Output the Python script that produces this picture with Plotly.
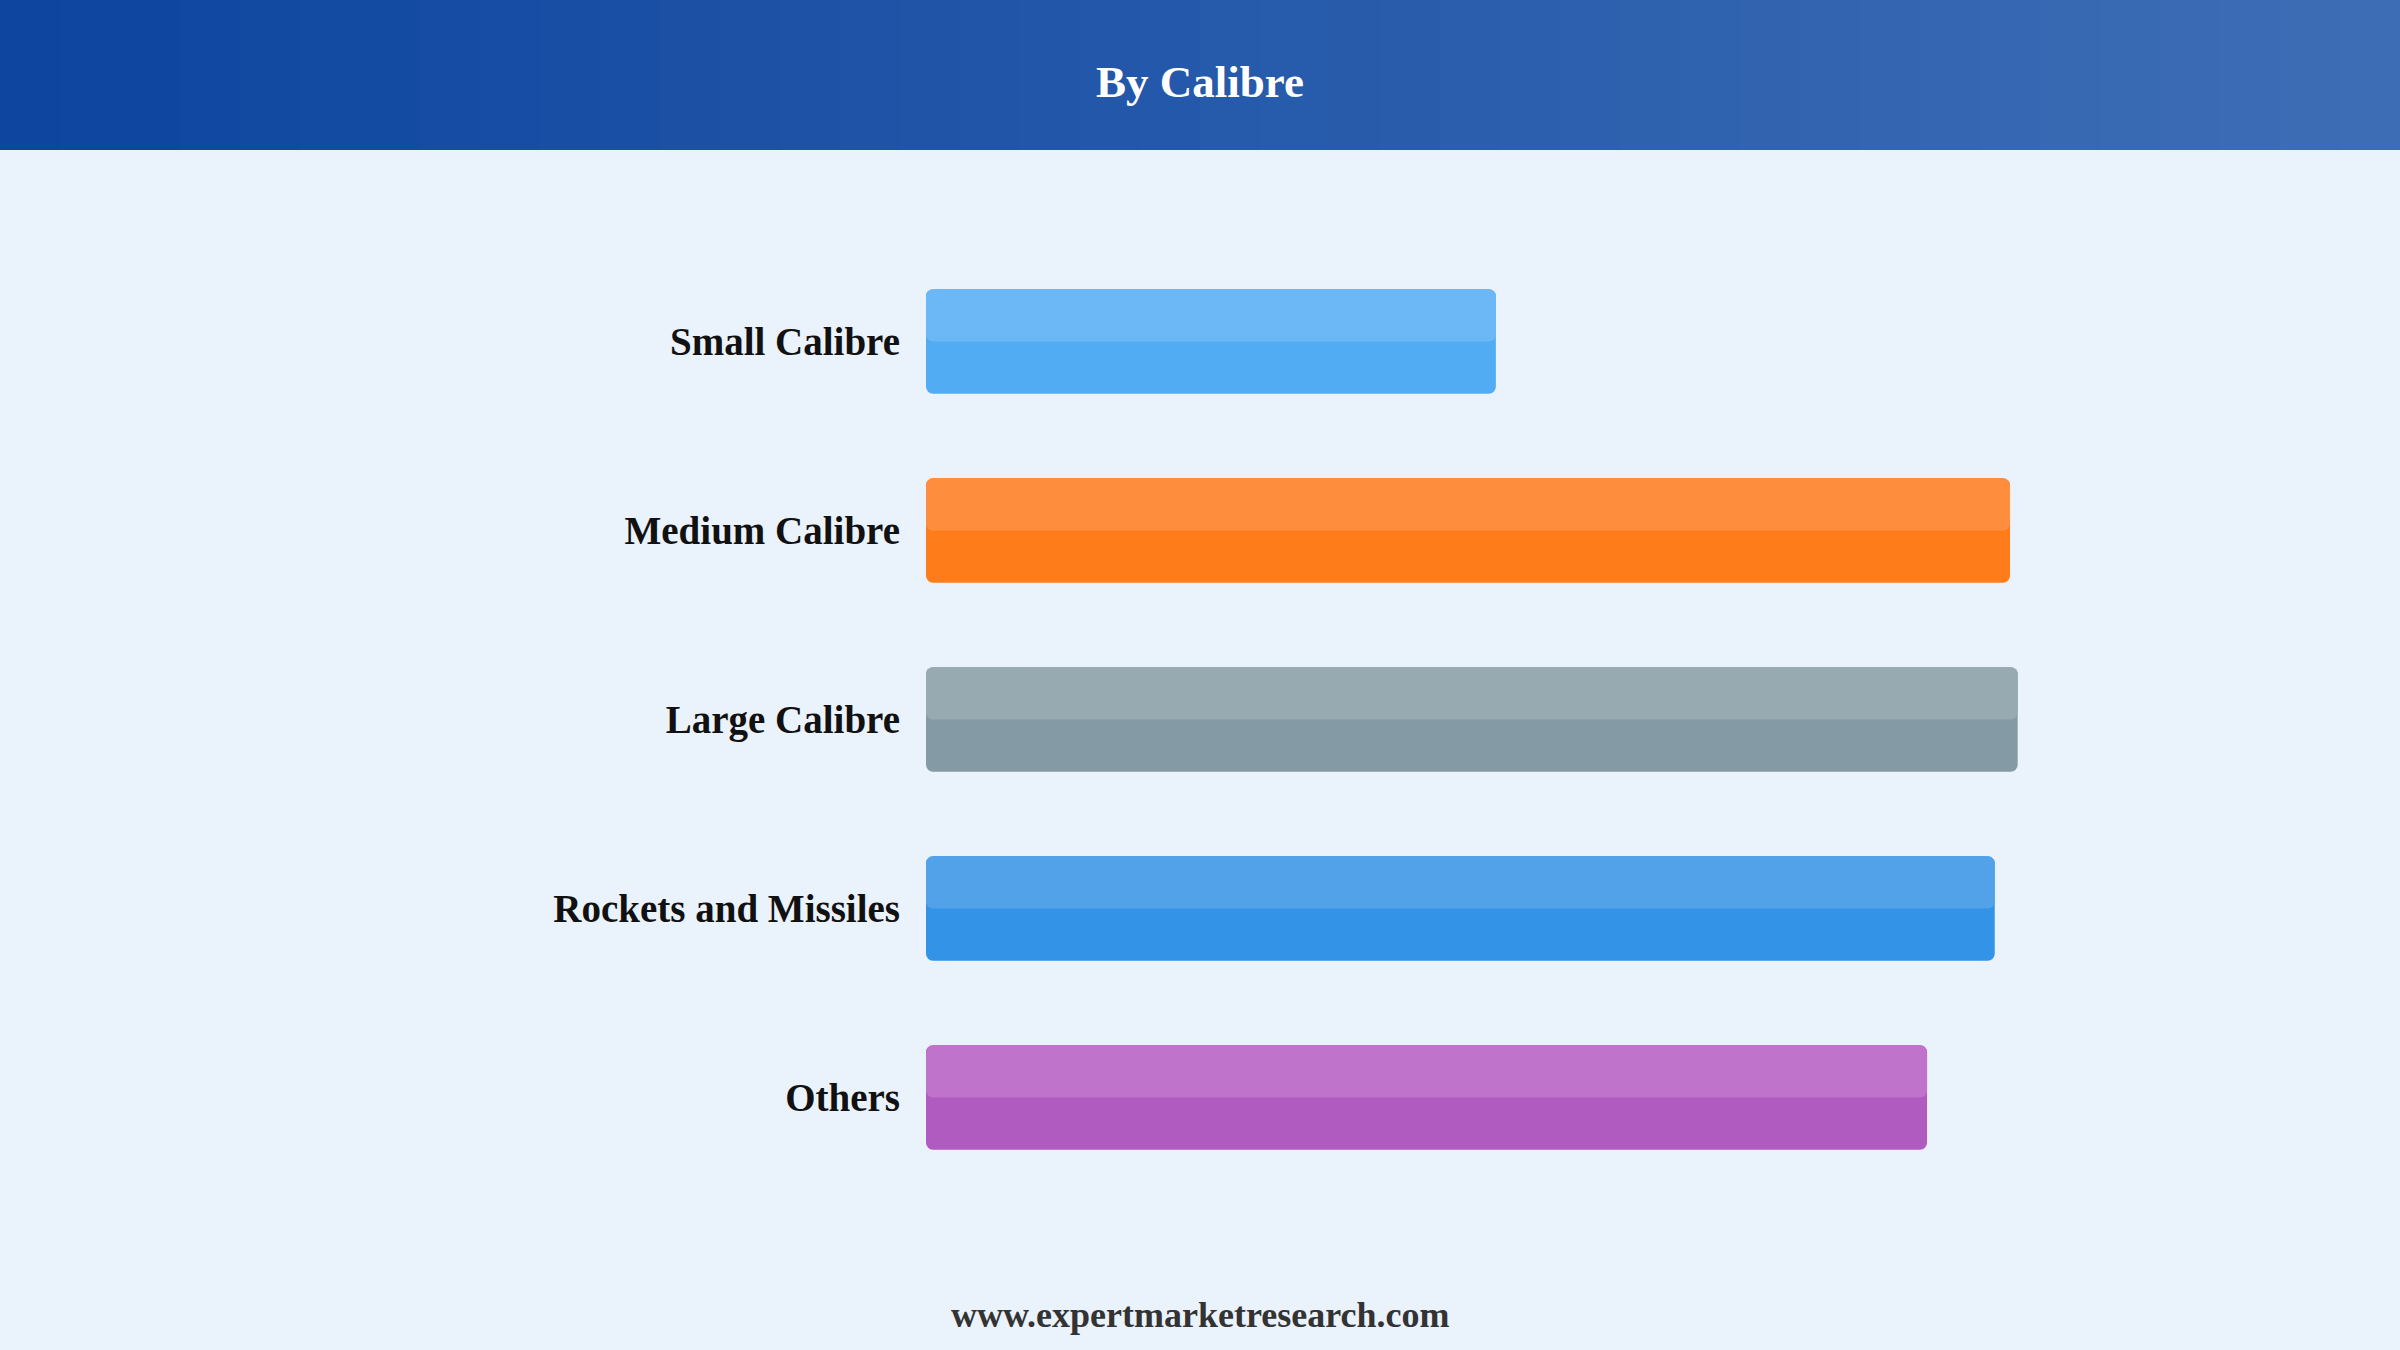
import plotly.graph_objects as go

# data (relative share, largest = 100)
categories = ['Small Calibre', 'Medium Calibre', 'Large Calibre', 'Rockets and Missiles', 'Others']
values = [52.2, 99.3, 100.0, 97.9, 91.7]
dark_colors = ['#52ACF3', '#FF7C1A', '#849BA5', '#3393E6', '#B05BC0']
light_colors = ['#6CB8F6', '#FF8D3E', '#97A9B1', '#52A2EA', '#BF73CB']

W, H = 2400, 1350
ml, mr, mt, mb = 926, 164, 247, 158
pw, ph = W - ml - mr, H - mt - mb

def px_x(p):
    return (p - ml) / pw

def px_y(p):
    return (H - mb - p) / ph

bw = 0.554
fig = go.Figure()

# darker full bar, lighter upper half on top
fig.add_trace(go.Bar(y=categories, x=values, base=[0] * len(values), orientation='h',
                     marker=dict(color=dark_colors, line=dict(width=0)),
                     width=bw, offset=-bw / 2, hoverinfo='skip', showlegend=False))
fig.add_trace(go.Bar(y=categories, x=values, base=[0] * len(values), orientation='h',
                     marker=dict(color=light_colors, line=dict(width=0)),
                     width=bw / 2, offset=-bw / 2, hoverinfo='skip', showlegend=False))

# header band, drawn as stripes to fake a gradient
c0 = (0x0D, 0x45, 0x9F)
c1 = (0x3D, 0x6D, 0xB5)
n = 40
shapes = []
for i in range(n):
    t = i / (n - 1)
    col = 'rgb(%d,%d,%d)' % tuple(round(a + (b - a) * t) for a, b in zip(c0, c1))
    shapes.append(dict(type='rect', xref='paper', yref='paper', layer='below',
                       x0=px_x(W * i / n), x1=px_x(W * (i + 1) / n + 1),
                       y0=px_y(150), y1=px_y(0), fillcolor=col, line=dict(width=0)))

fig.update_layout(
    width=W, height=H,
    margin=dict(l=ml, r=mr, t=mt, b=mb),
    paper_bgcolor='#EAF2FB', plot_bgcolor='#EAF2FB',
    barmode='overlay', barcornerradius=7,
    shapes=shapes,
    title=dict(text='By Calibre', x=0.5, xref='container', xanchor='center',
               y=1 - 81 / H, yref='container', yanchor='middle',
               font=dict(family='Times New Roman, Liberation Serif, serif', size=45,
                         color='white', weight='bold')),
    annotations=[dict(text='www.expertmarketresearch.com', xref='paper', yref='paper',
                      x=px_x(W / 2), y=px_y(1315), xanchor='center', yanchor='middle',
                      showarrow=False,
                      font=dict(family='Times New Roman, Liberation Serif, serif', size=36,
                                color='#333333', weight='bold'))],
)
fig.update_xaxes(range=[0, 120], visible=False, fixedrange=True)
fig.update_yaxes(autorange='reversed', showgrid=False, zeroline=False, showline=False,
                 ticks='', ticklabelstandoff=25,
                 tickfont=dict(family='Times New Roman, Liberation Serif, serif', size=39,
                               color='#111111', weight='bold'))

fig.write_html('out.html', config={'displayModeBar': False},
               post_script="document.body.style.margin='0';")
